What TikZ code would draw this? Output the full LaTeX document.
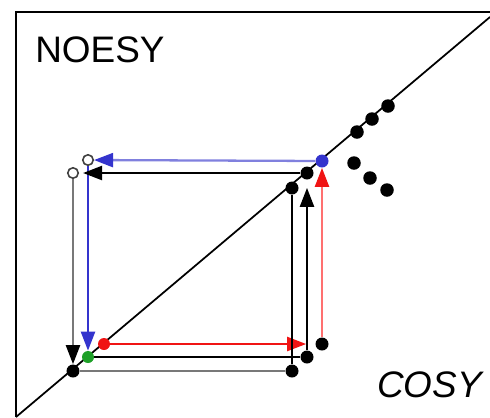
\documentclass[tikz,border=0pt]{standalone}
\usepackage{fontspec}
\setmainfont{Liberation Sans}
\usetikzlibrary{arrows.meta}
\definecolor{SpecBlue}{RGB}{52,52,205}
\definecolor{SpecBlueLight}{RGB}{128,128,222}
\definecolor{SpecRed}{RGB}{240,20,20}
\definecolor{SpecRedLight}{RGB}{255,112,112}
\definecolor{SpecGreen}{RGB}{30,160,40}
\definecolor{SpecGray}{RGB}{120,120,120}

\begin{document}
\begin{tikzpicture}[x=0.02cm, y=-0.02cm,
    every node/.style={inner sep=0pt},
    dot/.style={circle, fill=black, minimum size=0.26cm},
    hollow/.style={circle, draw=black!75, fill=white, line width=0.9pt, minimum size=0.21cm},
    link/.style={line width=1.3pt},
    tip/.style={-{Triangle[length=0.38cm, width=0.28cm, color=#1]}}]
  \useasboundingbox (0,0) rectangle (490,417);
  % frame and diagonal
  \draw[line width=1.5pt] (16,417) |- (490,12);
  \draw[line width=1pt] (16,417) -- (490,17);
  \node[anchor=base west, font=\fontsize{21}{24}\selectfont] (noesy) at (35,62) {NOESY};
  \node[anchor=base west, font=\fontsize{21}{24}\selectfont\itshape] (cosy) at (377,397) {COSY};
  % peaks
  \node[dot] (b0) at (73,371) {};
  \node[dot, fill=SpecGreen, minimum size=0.24cm] (g) at (88,357) {};
  \node[dot, fill=SpecRed, minimum size=0.24cm] (r1) at (104,344) {};
  \node[dot] (b1) at (292,188) {};
  \node[dot] (b2) at (307,173) {};
  \node[dot, fill=SpecBlue] (bl) at (322,161) {};
  \node[dot] (r2) at (322,344) {};
  \node[dot] (b5) at (307,357) {};
  \node[dot] (b6) at (292,371) {};
  \node[hollow] (o1) at (88,160) {};
  \node[hollow] (o2) at (73,173) {};
  \foreach \n/\x/\y in {d1/357/132,d2/372/119,d3/388/106,e1/354/163,e2/370/178,e3/387/190}
    \node[dot, minimum size=0.27cm] (\n) at (\x,\y) {};
  % blue and red paths
  \draw[link, SpecBlueLight, tip=SpecBlue] (bl) -- (o1);
  \draw[link, SpecBlue, tip=SpecBlue] (o1) -- (g);
  \draw[link, SpecRed, tip=SpecRed, shorten >=0.18cm] (r1) -- (r2);
  \draw[link, SpecRedLight, tip=SpecRed] (r2) -- (bl);
  % black paths
  \draw[link, tip=black, shorten >=0.08cm] (b2) -- (o2);
  \draw[link, SpecGray, tip=black] (o2) -- (b0);
  \draw[link] (g) -- (b5);
  \draw[link, tip=black, shorten >=0.16cm] (b5) -- (b2);
  \draw[link, SpecGray] (b0) -- (b6);
  \draw[link] (b6) -- (b1);
\end{tikzpicture}
\end{document}
